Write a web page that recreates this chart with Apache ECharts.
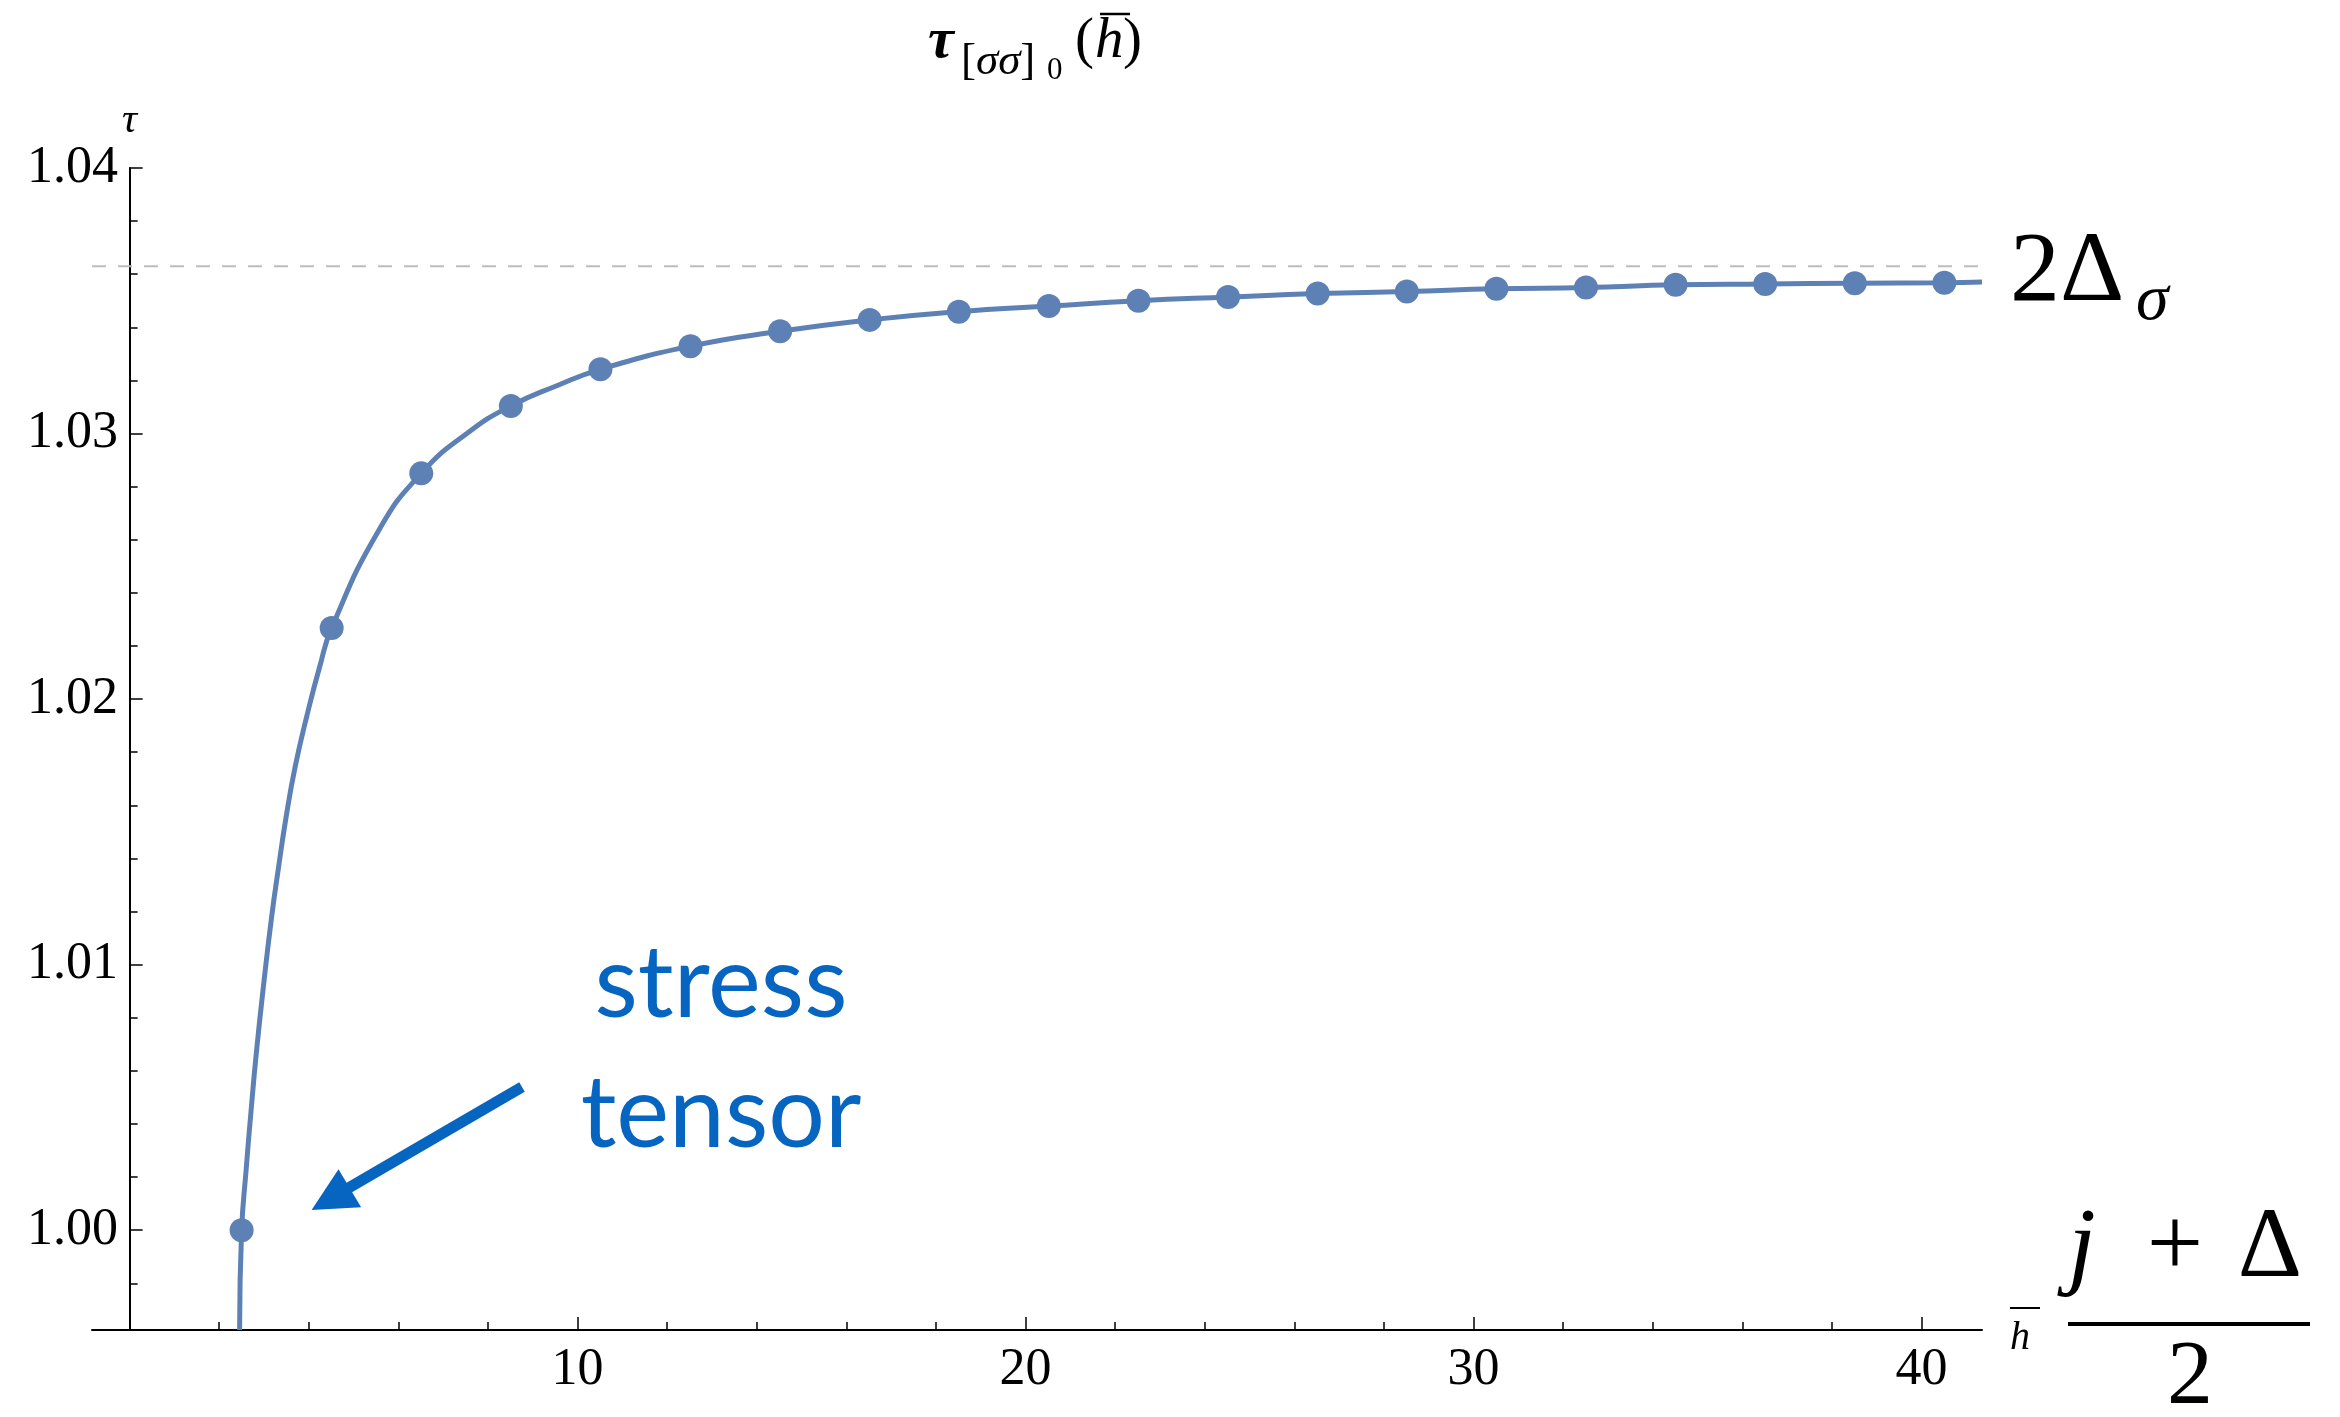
<!DOCTYPE html>
<html>
<head>
<meta charset="utf-8">
<style>
html,body{margin:0;padding:0;background:#fff;}
#main{width:2340px;height:1417px;}
</style>
<script src="https://cdn.jsdelivr.net/npm/echarts@6/dist/echarts.min.js"></script>
</head>
<body>
<div id="main"></div>
<script>
// ---- data ----
const curveX = [2.455, 2.50, 2.600, 2.712, 2.835, 3.002, 3.170, 3.326, 3.493, 3.694, 3.951, 4.241, 4.51, 5.56, 6.51, 7.55, 8.51, 9.55, 10.51, 12.52, 14.52, 16.52, 18.51, 20.52, 22.52, 24.52, 26.52, 28.51, 30.51, 32.51, 34.51, 36.51, 38.51, 40.51, 41.35];
const curveY = [0.99624, 1.00000, 1.00226, 1.00452, 1.00678, 1.00941, 1.01180, 1.01368, 1.01556, 1.01744, 1.01933, 1.02121, 1.02268, 1.02635, 1.02850, 1.03003, 1.03104, 1.03181, 1.03242, 1.03329, 1.03385, 1.03428, 1.03459, 1.03480, 1.03500, 1.03514, 1.03527, 1.03535, 1.03545, 1.03550, 1.03560, 1.03563, 1.03566, 1.03568, 1.03571];
const dotX = [2.50, 4.51, 6.51, 8.51, 10.51, 12.52, 14.52, 16.52, 18.51, 20.52, 22.52, 24.52, 26.52, 28.51, 30.51, 32.51, 34.51, 36.51, 38.51, 40.51];
const dotY = [1.00000, 1.02268, 1.02850, 1.03104, 1.03242, 1.03329, 1.03385, 1.03428, 1.03459, 1.03480, 1.03500, 1.03514, 1.03527, 1.03535, 1.03545, 1.03550, 1.03560, 1.03563, 1.03566, 1.03568];
const twoDeltaSigma = 1.0363;
const xMajorTicks = [10, 20, 30, 40];
const xMinorTicks = [2, 4, 6, 8, 12, 14, 16, 18, 22, 24, 26, 28, 32, 34, 36, 38];
const yMajorTicks = [1.00, 1.01, 1.02, 1.03, 1.04];
const yMinorTicks = [0.998, 1.002, 1.004, 1.006, 1.008, 1.012, 1.014, 1.016, 1.018, 1.022, 1.024, 1.026, 1.028, 1.032, 1.034, 1.036, 1.038];
const xRange = [-0.84, 41.35];
const yRange = [0.99624, 1.04];

const BLUE = '#5e81b5';
const SERIF = 'Liberation Serif';
const chart = echarts.init(document.getElementById('main'), null, {renderer: 'canvas'});

const curve = curveX.map((x, i) => [x, curveY[i]]);
const dots = dotX.map((x, i) => [x, dotY[i]]);
const asymptote = [[xRange[0], twoDeltaSigma], [xRange[1], twoDeltaSigma]];

function t(x, y, text, size, opts) {
  return {
    type: 'text', x: x, y: y, silent: true,
    style: Object.assign({
      text: text, fontSize: size, fontFamily: SERIF, fill: '#000',
      align: 'left', verticalAlign: 'middle'
    }, opts || {})
  };
}
const axisLabelStyle = {fontSize: 52, fontFamily: SERIF, fontStyle: 'normal', fontWeight: 'normal', color: '#000'};

const option = {
  animation: false,
  backgroundColor: '#fff',
  textStyle: {fontFamily: SERIF},
  grid: {left: 92, right: 358, top: 168, bottom: 87, containLabel: false, outerBoundsMode: 'none'},
  xAxis: [{
    type: 'value', min: xRange[0], max: xRange[1], position: 'bottom',
    axisLine: {onZero: false, lineStyle: {color: '#000', width: 2}},
    axisTick: {inside: true, length: 13, customValues: xMajorTicks, lineStyle: {color: '#000', width: 1.5}},
    axisLabel: Object.assign({customValues: xMajorTicks, margin: 14}, axisLabelStyle),
    splitLine: {show: false}
  }, {
    type: 'value', min: xRange[0], max: xRange[1], position: 'bottom',
    axisLine: {show: false, onZero: false},
    axisTick: {inside: true, length: 8, customValues: xMinorTicks, lineStyle: {color: '#000', width: 1.5}},
    axisLabel: {show: false},
    splitLine: {show: false}
  }],
  yAxis: [{
    type: 'value', min: yRange[0], max: yRange[1], position: 'left',
    axisLine: {onZero: true, onZeroAxisIndex: 0, lineStyle: {color: '#000', width: 2}},
    axisTick: {inside: true, length: 13, customValues: yMajorTicks, lineStyle: {color: '#000', width: 1.5}},
    axisLabel: Object.assign({customValues: yMajorTicks, formatter: v => v.toFixed(2), margin: -26}, axisLabelStyle),
    splitLine: {show: false},
    name: 'τ', nameLocation: 'end', nameGap: 26,
    nameTextStyle: {fontSize: 42, fontFamily: SERIF, fontStyle: 'italic', color: '#000'}
  }, {
    type: 'value', min: yRange[0], max: yRange[1], position: 'left',
    axisLine: {show: false, onZero: true, onZeroAxisIndex: 0},
    axisTick: {inside: true, length: 8, customValues: yMinorTicks, lineStyle: {color: '#000', width: 1.5}},
    axisLabel: {show: false},
    splitLine: {show: false}
  }],
  series: [{
    type: 'line', data: asymptote, xAxisIndex: 0, yAxisIndex: 0,
    showSymbol: false, symbol: 'none', silent: true, z: 1,
    lineStyle: {color: '#bdbdbd', width: 2, type: [14, 12]}
  }, {
    type: 'line', data: curve, xAxisIndex: 0, yAxisIndex: 0,
    smooth: 0.5, showSymbol: false, symbol: 'none',
    lineStyle: {color: BLUE, width: 5}, z: 2, silent: true
  }, {
    type: 'scatter', data: dots, xAxisIndex: 0, yAxisIndex: 0,
    symbolSize: 24, itemStyle: {color: BLUE, opacity: 1}, z: 3, silent: true
  }],
  graphic: [
    // title  tau_[sigma sigma]_0 ( h-bar )
    t(928, 42, 'τ', 58, {fontStyle: 'italic', fontWeight: 'bold'}),
    {
      type: 'text', x: 961, y: 62, silent: true,
      style: {
        text: '{b|[}{s|σσ}{b|]}', fontSize: 45, fontFamily: SERIF, fill: '#000', align: 'left', verticalAlign: 'middle',
        rich: {b: {fontSize: 45, fontFamily: SERIF, fill: '#000'}, s: {fontSize: 45, fontFamily: SERIF, fontStyle: 'italic', fill: '#000'}}
      }
    },
    t(1047, 71, '0', 31),
    t(1075, 42, '(', 57),
    t(1095, 42, 'h', 57, {fontStyle: 'italic'}),
    {type: 'line', silent: true, shape: {x1: 1100, y1: 14, x2: 1130, y2: 14}, style: {stroke: '#000', lineWidth: 2.5}},
    t(1123, 42, ')', 57),
    // 2 Delta_sigma
    t(2010, 274, '2Δ', 100),
    t(2136, 302, 'σ', 66, {fontStyle: 'italic'}),
    // x-axis name  h-bar  (j+Delta)/2
    t(2010, 1338, 'h', 40, {fontStyle: 'italic'}),
    {type: 'line', silent: true, shape: {x1: 2010, y1: 1308, x2: 2040, y2: 1308}, style: {stroke: '#000', lineWidth: 2}},
    t(2068, 1250, 'j', 100, {fontStyle: 'italic'}),
    t(2175, 1250, '+', 100, {align: 'center'}),
    t(2270, 1250, 'Δ', 100, {align: 'center'}),
    {type: 'line', silent: true, shape: {x1: 2068, y1: 1324, x2: 2310, y2: 1324}, style: {stroke: '#000', lineWidth: 4}},
    t(2190, 1379, '2', 92, {align: 'center'}),
    // stress tensor annotation
    t(721, 985, 'stress', 100, {align: 'center', fontFamily: 'Lato', fill: '#0565c0'}),
    t(721, 1115, 'tensor', 100, {align: 'center', fontFamily: 'Lato', fill: '#0565c0'}),
    {type: 'line', silent: true, shape: {x1: 522, y1: 1087, x2: 345, y2: 1190}, style: {stroke: '#0565c0', lineWidth: 11}},
    {type: 'polygon', silent: true, shape: {points: [[311.6, 1210], [338.5, 1169.3], [361.1, 1207.3]]}, style: {fill: '#0565c0'}}
  ]
};
chart.setOption(option);
</script>
</body>
</html>
